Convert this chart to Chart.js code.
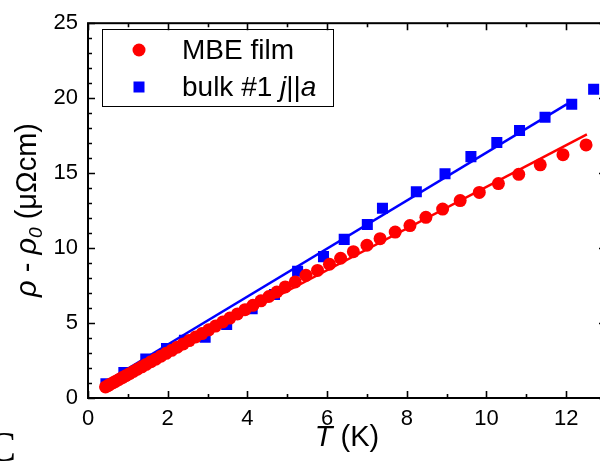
<!DOCTYPE html>
<html><head><meta charset="utf-8">
<script src="https://cdn.jsdelivr.net/npm/chart.js@4"></script>
<style>html,body{margin:0;padding:0;overflow:hidden;background:#fff;width:600px;height:467px}canvas{display:block}</style>
</head><body><canvas id="c" width="620" height="467" style="width:620px;height:467px"></canvas>
<script>
// ---- data ----
const seriesNames = ['MBE film', 'bulk #1 j||a'];
const xTicks = [0, 2, 4, 6, 8, 10, 12];
const xMinorTicks = [1, 3, 5, 7, 9, 11];
const yTicks = [0, 5, 10, 15, 20, 25];
const yMinorTicks = [1,2,3,4,6,7,8,9,11,12,13,14,16,17,18,19,21,22,23,24];

const filmT = [0.44,0.50,0.56,0.63,0.70,0.78,0.86,0.95,1.04,1.14,1.24,1.35,1.46,1.58,1.70,1.83,1.96,2.10,2.24,2.39,2.54,2.70,2.86,3.03,3.20,3.38,3.56,3.75,3.94,4.14,4.34,4.54,4.74,4.95,5.20,5.47,5.76,6.06,6.34,6.66,7.00,7.33,7.71,8.08,8.48,8.90,9.34,9.82,10.30,10.81,11.35,11.92,12.50];
const filmRho = [0.74,0.83,0.92,1.02,1.12,1.24,1.36,1.49,1.62,1.77,1.92,2.08,2.24,2.42,2.59,2.79,2.98,3.18,3.39,3.61,3.83,4.07,4.30,4.55,4.80,5.07,5.33,5.61,5.89,6.18,6.48,6.77,7.07,7.41,7.74,8.18,8.51,8.92,9.32,9.76,10.19,10.63,11.07,11.50,12.05,12.60,13.17,13.71,14.30,14.92,15.55,16.23,16.88];

const bulkT = [0.45,0.90,1.45,1.97,2.42,2.94,3.48,4.12,4.68,5.26,5.91,6.43,7.01,7.39,8.24,8.96,9.61,10.26,10.83,11.47,12.14,12.69];
const bulkRho = [0.95,1.70,2.60,3.30,3.85,4.05,4.90,5.95,6.90,8.46,9.43,10.58,11.57,12.66,13.76,14.96,16.10,17.04,17.85,18.72,19.60,20.60];

const filmFitT = [0.44, 12.52];
const filmFitRho = [0.80, 17.59];
const bulkFitT = [0.40, 12.02];
const bulkFitRho = [1.00, 19.60];

// ---- styling ----
const RED = '#ff0000';
const BLUE = '#0000ff';
const SANS = '"Liberation Sans", Arial, sans-serif';
const SERIF = '"Liberation Serif", "Times New Roman", serif';

const pts = (xs, ys) => xs.map((v, i) => ({x: v, y: ys[i]}));

const framePlugin = {
  id: 'frame',
  afterDraw(chart) {
    const {ctx, chartArea: a, scales: {x, y}} = chart;
    ctx.save();
    ctx.strokeStyle = '#000';
    ctx.lineWidth = 2;
    ctx.strokeRect(a.left, a.top, a.right - a.left, a.bottom - a.top);
    const MAJ = 7, MIN = 4;
    ctx.lineWidth = 1.6;
    ctx.beginPath();
    const xt = (vals, len) => vals.forEach(v => {
      const p = Math.round(x.getPixelForValue(v)) + 0.5;
      ctx.moveTo(p, a.bottom); ctx.lineTo(p, a.bottom - len);
      ctx.moveTo(p, a.top); ctx.lineTo(p, a.top + len);
    });
    const yt = (vals, len) => vals.forEach(v => {
      const p = Math.round(y.getPixelForValue(v)) + 0.5;
      ctx.moveTo(a.left, p); ctx.lineTo(a.left + len, p);
      ctx.moveTo(a.right, p); ctx.lineTo(a.right - len, p);
    });
    xt(xTicks, MAJ); xt(xMinorTicks, MIN);
    yt(yTicks, MAJ); yt(yMinorTicks, MIN);
    ctx.stroke();

    // legend
    ctx.lineWidth = 1;
    ctx.strokeStyle = '#000';
    ctx.strokeRect(102.5, 29.5, 231, 77);
    const ds0 = chart.data.datasets[0], ds2 = chart.data.datasets[2];
    ctx.fillStyle = ds0.backgroundColor;
    ctx.beginPath(); ctx.arc(139, 50, 6.5, 0, Math.PI * 2); ctx.fill();
    ctx.fillStyle = ds2.backgroundColor;
    ctx.fillRect(133.5, 81.5, 11, 11);
    ctx.fillStyle = '#000';
    ctx.textBaseline = 'alphabetic';
    ctx.textAlign = 'left';
    const LF = 28;
    ctx.font = LF + 'px ' + SANS;
    ctx.fillText(seriesNames[0], 182, 59);
    // "bulk #1 j||a" with italic j and a
    let lx = 182;
    const parts = [['bulk #1 ', false], ['j', true], ['||', false], ['a', true]];
    parts.forEach(([t, it]) => {
      ctx.font = (it ? 'italic ' : '') + LF + 'px ' + SANS;
      ctx.fillText(t, lx, 96);
      lx += ctx.measureText(t).width;
    });

    // x title
    const TF = 29;
    const xparts = [['T', true], [' (K)', false]];
    let w = 0;
    xparts.forEach(([t, it]) => { ctx.font = (it ? 'italic ' : '') + TF + 'px ' + SANS; w += ctx.measureText(t).width; });
    let tx = 347 - w / 2;
    xparts.forEach(([t, it]) => {
      ctx.font = (it ? 'italic ' : '') + TF + 'px ' + SANS;
      ctx.fillText(t, tx, 446);
      tx += ctx.measureText(t).width;
    });

    // y title (rotated)
    const yparts = [['ρ', true, false], [' - ', false, false], ['ρ', true, false], ['0', true, true], [' (μΩcm)', false, false]];
    const fontFor = (it, sub) => (it ? 'italic ' : '') + (sub ? Math.round(TF * 0.65) : TF) + 'px ' + SANS;
    w = 0;
    yparts.forEach(([t, it, sub]) => { ctx.font = fontFor(it, sub); w += ctx.measureText(t).width; });
    ctx.save();
    ctx.translate(36, 210);
    ctx.rotate(-Math.PI / 2);
    let ty = -w / 2;
    yparts.forEach(([t, it, sub]) => {
      ctx.font = fontFor(it, sub);
      ctx.fillText(t, ty, sub ? 6 : 0);
      ty += ctx.measureText(t).width;
    });
    ctx.restore();

    // panel label
    ctx.font = '42px ' + SERIF;
    const cw = ctx.measureText('C').width;
    ctx.fillText('C', 16 - cw, 461);
    ctx.restore();
  }
};

new Chart(document.getElementById('c').getContext('2d'), {
  type: 'scatter',
  data: {
    datasets: [
      {label: seriesNames[0], data: pts(filmT, filmRho), pointStyle: 'circle', pointRadius: 6.5,
       backgroundColor: RED, borderColor: RED, borderWidth: 0, order: 0},
      {label: 'film fit', data: pts(filmFitT, filmFitRho), showLine: true, pointRadius: 0,
       borderColor: RED, backgroundColor: RED, borderWidth: 2.5, order: 1},
      {label: seriesNames[1], data: pts(bulkT, bulkRho), pointStyle: 'rect', pointRadius: 7.8,
       backgroundColor: BLUE, borderColor: BLUE, borderWidth: 0, order: 2},
      {label: 'bulk fit', data: pts(bulkFitT, bulkFitRho), showLine: true, pointRadius: 0,
       borderColor: BLUE, backgroundColor: BLUE, borderWidth: 2.5, order: 3}
    ]
  },
  options: {
    responsive: false,
    animation: false,
    devicePixelRatio: 1,
    layout: {padding: {left: 0, right: 14, top: 17, bottom: 0}},
    plugins: {legend: {display: false}, tooltip: {enabled: false}},
    scales: {
      x: {
        type: 'linear', min: 0, max: 13,
        afterBuildTicks: s => { s.ticks = xTicks.map(v => ({value: v})); },
        afterFit: s => { s.height = 69; },
        grid: {display: false, drawTicks: false},
        border: {display: false},
        ticks: {font: {family: SANS, size: 22}, color: '#000', padding: 8, maxRotation: 0, autoSkip: false}
      },
      y: {
        type: 'linear', min: 0, max: 25,
        afterBuildTicks: s => { s.ticks = yTicks.map(v => ({value: v})); },
        afterFit: s => { s.width = 88; },
        grid: {display: false, drawTicks: false},
        border: {display: false},
        ticks: {font: {family: SANS, size: 22}, color: '#000', padding: 10, autoSkip: false}
      }
    }
  },
  plugins: [framePlugin]
});
</script>
</body></html>
